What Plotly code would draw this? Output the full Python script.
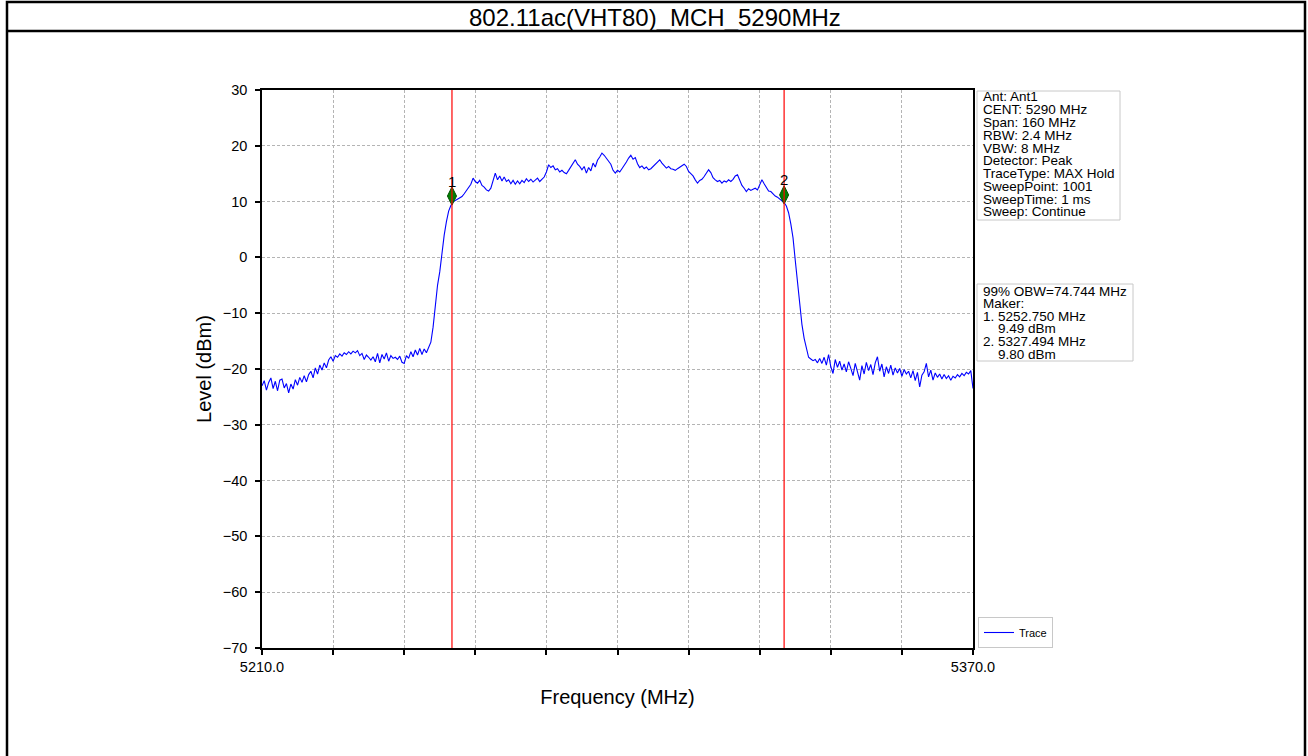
import numpy as np
import plotly.graph_objects as go

# ---------------- data ----------------
f_start, f_stop = 5210.0, 5370.0
levels = [
    # 5210.0 .. 5248.0
    -23.0, -22.1, -23.8, -22.4, -21.6, -23.5, -22.2, -23.9, -22.0, -21.8,
    -23.4, -22.6, -24.3, -22.7, -23.6, -21.9, -22.9, -21.5, -22.4, -21.2,
    -22.3, -21.0, -20.4, -21.6, -19.8, -20.9, -19.3, -20.2, -18.9, -19.8,
    -18.4, -17.8, -18.6, -17.6, -17.9, -17.3, -17.7, -17.1, -17.4, -16.9,
    -17.3, -16.8, -17.1, -16.7, -17.6, -17.2, -18.3, -17.5, -17.9, -18.4,
    -17.8, -18.7, -17.2, -18.9, -17.4, -18.2, -17.1, -18.6, -17.6, -18.1,
    -17.9, -18.3, -17.7, -18.8, -19.0, -17.6, -18.1, -16.9, -17.8, -16.6,
    -17.5, -16.3, -17.4, -16.4, -17.1, -16.0, -15.2,
    # rising edge 5248.5 .. 5253.0
    -12.5, -8.0, -5.0, -2.6, 0.8, 4.0, 6.4, 8.3, 9.3, 10.0,
    # in-band 5253.5 .. 5328.0
    10.2, 10.4, 10.7, 10.9, 11.4, 11.9, 12.4, 13.1, 14.2, 13.6,
    13.3, 13.8, 12.9, 12.6, 12.1, 11.9, 12.4, 13.6, 15.1, 13.9,
    14.6, 13.7, 14.4, 13.6, 13.9, 13.2, 13.8, 13.1, 13.7, 13.2,
    13.8, 13.4, 14.1, 13.6, 14.0, 13.5, 13.9, 14.2, 13.6, 14.0,
    14.4, 15.3, 16.6, 16.1, 16.4, 15.7, 15.9, 15.3, 15.6, 15.2,
    15.0, 15.6, 16.2, 16.8, 17.5, 16.7, 16.3, 15.7, 16.3, 15.1,
    16.1, 15.5, 16.9, 16.2, 17.4, 18.0, 18.7, 18.3, 17.8, 17.1,
    16.7, 15.6, 15.1, 15.6, 15.3, 15.9, 16.4, 17.1, 17.8, 18.3,
    17.6, 17.9, 16.8, 16.1, 16.4, 15.9, 16.2, 15.7, 15.9, 16.3,
    16.8, 17.2, 17.5, 16.9, 16.4, 16.0, 16.3, 15.9, 15.8, 15.6,
    15.9, 16.2, 16.4, 16.7, 16.3, 15.4, 15.0, 14.6, 13.9, 13.3,
    13.8, 14.0, 14.5, 15.0, 15.7, 15.2, 14.3, 13.9, 13.6, 13.8,
    13.3, 13.7, 13.5, 13.9, 13.6, 14.0, 14.6, 14.8, 13.8, 12.9,
    12.4, 11.8, 12.3, 12.0, 12.2, 12.4, 12.1, 12.9, 13.9, 13.2,
    12.6, 11.9, 11.8, 11.4, 11.0, 10.8, 10.5, 10.1, 9.8, 9.2,
    # falling edge 5328.5 .. 5333.0
    8.0, 6.0, 3.5, -0.5, -4.5, -8.5, -12.0, -14.5, -16.3, -17.9,
    # 5333.5 .. 5370.0
    -18.2, -18.5, -18.3, -18.9, -18.1, -19.0, -17.9, -19.3, -17.4, -19.6,
    -20.8, -18.3, -19.7, -18.6, -20.2, -19.1, -20.5, -18.7, -19.9, -21.2,
    -19.0, -20.6, -22.0, -19.4, -20.9, -18.8, -20.3, -19.2, -21.0, -18.9,
    -17.8, -20.4, -19.1, -21.4, -19.6, -20.8, -19.3, -21.1, -19.8, -20.7,
    -19.9, -21.3, -20.1, -20.9, -20.4, -21.6, -20.3, -22.1, -20.6, -23.2,
    -21.1, -20.5, -19.0, -21.4, -20.2, -22.0, -20.7, -21.5, -20.9, -21.8,
    -21.0, -21.7, -21.2, -22.0, -21.3, -21.6, -21.0, -21.4, -20.8, -21.2,
    -20.6, -20.9, -20.3, -23.5,
]
freqs = np.linspace(f_start, f_stop, len(levels))

marker_freqs = [5252.750, 5327.494]
marker_levels = [9.49, 9.80]
marker_symbol_y = [11.0, 11.2]
marker_names = ["1", "2"]

x_tickvals = list(np.arange(5210, 5371, 16))
x_ticktext = ["5210.0"] + [""] * 9 + ["5370.0"]
y_tickvals = list(range(-70, 31, 10))

title_text = "802.11ac(VHT80)_MCH_5290MHz"
info_lines = [
    "Ant: Ant1", "CENT: 5290 MHz", "Span: 160 MHz", "RBW: 2.4 MHz", "VBW: 8 MHz",
    "Detector: Peak", "TraceType: MAX Hold", "SweepPoint: 1001", "SweepTime: 1 ms",
    "Sweep: Continue",
]
obw_text = "99% OBW=74.744 MHz"

# ---------------- layout geometry (pixels) ----------------
W, H = 1308, 756
L, R, T, B = 262, 973, 90, 648
pw, ph = R - L, B - T

def px(x):
    return (x - L) / pw

def py(y):
    return (B - y) / ph

FONT = "Liberation Sans, Arial, Helvetica, sans-serif"

fig = go.Figure()
fig.add_trace(go.Scatter(x=freqs, y=levels, mode="lines", name="Trace",
                         line=dict(color="#0000ff", width=1.1)))

for f in marker_freqs:
    fig.add_shape(type="line", xref="x", yref="y", x0=f, x1=f, y0=-70, y1=30,
                  line=dict(color="#ff0000", width=1.2), layer="above")
fig.add_trace(go.Scatter(x=marker_freqs, y=marker_symbol_y, mode="markers",
                         showlegend=False,
                         marker=dict(symbol="diamond-tall", size=13, color="#008000",
                                     line=dict(color="#005000", width=1))))
for f, yv, n in zip(marker_freqs, marker_symbol_y, marker_names):
    fig.add_annotation(x=f, y=yv, xref="x", yref="y", text=n, showarrow=False,
                       yshift=15, font=dict(family=FONT, size=15, color="black"))

# outer frame & title box
shape_line = dict(color="black", width=2.5)
fig.add_shape(type="rect", xref="paper", yref="paper", x0=px(7), x1=px(1305),
              y0=py(760), y1=py(2), line=shape_line)
fig.add_shape(type="line", xref="paper", yref="paper", x0=px(7), x1=px(1305),
              y0=py(31), y1=py(31), line=shape_line)
fig.add_annotation(xref="paper", yref="paper", x=px(655), y=py(17), text=title_text,
                   showarrow=False, font=dict(family=FONT, size=24, color="black"),
                   xanchor="center", yanchor="middle")

# info box 1
box_line = dict(color="#c8c8c8", width=1)
fig.add_shape(type="rect", xref="paper", yref="paper", x0=px(977), x1=px(1120),
              y0=py(220), y1=py(91), line=box_line, fillcolor="white")
for i, s in enumerate(info_lines):
    fig.add_annotation(xref="paper", yref="paper", x=px(981), y=py(97 + 12.75 * i),
                       text=s, showarrow=False, xanchor="left", yanchor="middle",
                       font=dict(family=FONT, size=13.5, color="black"))

# info box 2
box2_lines = [obw_text, "Maker:"]
for i, (f, lv) in enumerate(zip(marker_freqs, marker_levels)):
    box2_lines.append(f"{i + 1}. {f:.3f} MHz")
    box2_lines.append("\u00a0\u00a0\u00a0\u00a0" + f"{lv:.2f} dBm")
fig.add_shape(type="rect", xref="paper", yref="paper", x0=px(977), x1=px(1133),
              y0=py(361), y1=py(284), line=box_line, fillcolor="white")
for i, s in enumerate(box2_lines):
    fig.add_annotation(xref="paper", yref="paper", x=px(981), y=py(291 + 12.6 * i),
                       text=s, showarrow=False, xanchor="left", yanchor="middle",
                       font=dict(family=FONT, size=13.5, color="black"))

axis_common = dict(showline=True, mirror=True, linecolor="black", linewidth=1.5,
                   ticks="outside", ticklen=5, tickwidth=1.5, tickcolor="black",
                   showgrid=True, gridcolor="#b4b4b4", griddash="3px,2px", gridwidth=1,
                   zeroline=False, tickfont=dict(family=FONT, size=14.5, color="black"))

fig.update_layout(
    width=W, height=H,
    margin=dict(l=L, r=W - R, t=T, b=H - B, pad=0),
    paper_bgcolor="white", plot_bgcolor="white",
    font=dict(family=FONT, color="black"),
    xaxis=dict(range=[f_start, f_stop], tickmode="array", tickvals=x_tickvals,
               ticktext=x_ticktext,
               title=dict(text="Frequency (MHz)", font=dict(family=FONT, size=20),
                          standoff=16),
               **axis_common),
    yaxis=dict(range=[-70, 30], tickmode="array", tickvals=y_tickvals,
               ticklabelstandoff=5,
               title=dict(text="Level (dBm)", font=dict(family=FONT, size=20),
                          standoff=6),
               **axis_common),
    legend=dict(x=px(978), y=0, xanchor="left", yanchor="bottom",
                bordercolor="#c8c8c8", borderwidth=1, bgcolor="white",
                font=dict(family=FONT, size=11, color="black"),
                itemwidth=30, tracegroupgap=0),
    showlegend=True,
)

fig.write_html("out.html", config={"displayModeBar": False},
               post_script="document.body.style.margin='0';document.body.style.overflow='hidden';")
